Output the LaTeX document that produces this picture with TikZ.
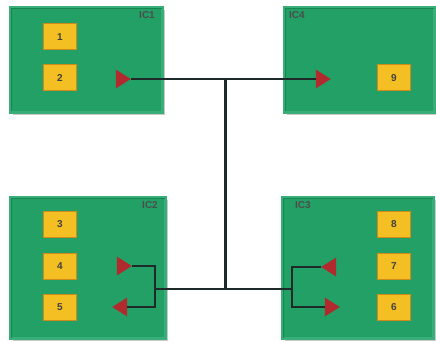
\documentclass[tikz,border=0pt]{standalone}
\usepackage{fontspec}
\setsansfont{Liberation Sans}
\usetikzlibrary{shapes.geometric,shadows}
\definecolor{icgreen}{HTML}{22A066}
\definecolor{icedge}{HTML}{3AAE78}
\definecolor{icinner}{HTML}{168550}
\definecolor{pinfill}{HTML}{F4BF22}
\definecolor{pinedge}{HTML}{D08A1C}
\definecolor{trired}{HTML}{B02A2E}
\definecolor{wire}{HTML}{1E2A2A}
\tikzset{
  chip/.style={rectangle, anchor=north west, inner sep=0pt, fill=icgreen, draw=icedge, line width=3pt,
    drop shadow={shadow xshift=2.5pt, shadow yshift=-2.5pt, opacity=0.35, fill=black!60}},
  pin/.style={rectangle, minimum width=33pt, minimum height=26pt, inner sep=0pt, fill=pinfill, draw=pinedge, line width=1pt,
    font=\sffamily\bfseries\fontsize{10}{11}\selectfont, text=black!75},
  chiplabel/.style={font=\sffamily\bfseries\fontsize{10}{11}\selectfont, text=black!70, inner sep=0pt},
  tri/.style={isosceles triangle, isosceles triangle stretches, minimum width=19pt, minimum height=15pt, inner sep=0pt, fill=trired, draw=none},
  triR/.style={tri, shape border rotate=0},
  triL/.style={tri, shape border rotate=180},
  wireline/.style={draw=wire, line width=1.5pt},
  trunk/.style={draw=wire, line width=3pt}
}
\begin{document}
\begin{tikzpicture}[x=1pt,y=-1pt]
\useasboundingbox (0,0) rectangle (436,342);
% chips
\node[chip, minimum width=152pt, minimum height=105pt] (ic1) at (9,6) {};
\node[chip, minimum width=150pt, minimum height=105pt] (ic4) at (283,6) {};
\node[chip, minimum width=155pt, minimum height=141pt] (ic2) at (9,196) {};
\node[chip, minimum width=151pt, minimum height=141pt] (ic3) at (281,196) {};
% inner bevel lines
\draw[icinner, line width=1pt] ([shift={(2.5,-2.5)}]ic1.south west) |- ([shift={(-2.5,2.5)}]ic1.north east);
\draw[icinner, line width=1pt] ([shift={(2.5,-2.5)}]ic4.south west) |- ([shift={(-2.5,2.5)}]ic4.north east);
\draw[icinner, line width=1pt] ([shift={(2.5,-2.5)}]ic2.south west) |- ([shift={(-2.5,2.5)}]ic2.north east);
\draw[icinner, line width=1pt] ([shift={(2.5,-2.5)}]ic3.south west) |- ([shift={(-2.5,2.5)}]ic3.north east);
% labels
\node[chiplabel, anchor=north east] (l1) at (155,11) {IC1};
\node[chiplabel, anchor=north west] (l4) at (289,11) {IC4};
\node[chiplabel, anchor=north east] (l2) at (158,201) {IC2};
\node[chiplabel, anchor=north west] (l3) at (295,201) {IC3};
% pins
\node[pin] (p1) at (60,37) {1};
\node[pin] (p2) at (60,78) {2};
\node[pin] (p9) at (394,78) {9};
\node[pin] (p3) at (60,224) {3};
\node[pin] (p4) at (60,266) {4};
\node[pin] (p5) at (60,307) {5};
\node[pin] (p8) at (394,224) {8};
\node[pin] (p7) at (394,266) {7};
\node[pin] (p6) at (394,307) {6};
% triangles
\node[triR] (t1) at (121,79) {};
\node[triR] (t4) at (321,79) {};
\node[triR] (t2a) at (122,266) {};
\node[triL] (t2b) at (122,307) {};
\node[triL] (t3a) at (331,267) {};
\node[triR] (t3b) at (330,307) {};
% junction coordinates
\coordinate (j1) at (225,79);
\coordinate (j2) at (225,289);
\coordinate (b2t) at (155,266);
\coordinate (b2b) at (155,307);
\coordinate (b2m) at (155,289);
\coordinate (b3t) at (292,267);
\coordinate (b3b) at (292,307);
\coordinate (b3m) at (292,289);
% wires
\draw[wireline] (t1.apex) -- (t4.lower side);
\draw[trunk] (j1) -- (j2);
\draw[wireline] (b2m) -- (b3m);
\draw[wireline] (t2a.apex) -- (b2t) -- (b2b) -- (t2b.lower side);
\draw[wireline] (t3a.apex) -- (b3t) -- (b3b) -- (t3b.lower side);
\end{tikzpicture}
\end{document}
